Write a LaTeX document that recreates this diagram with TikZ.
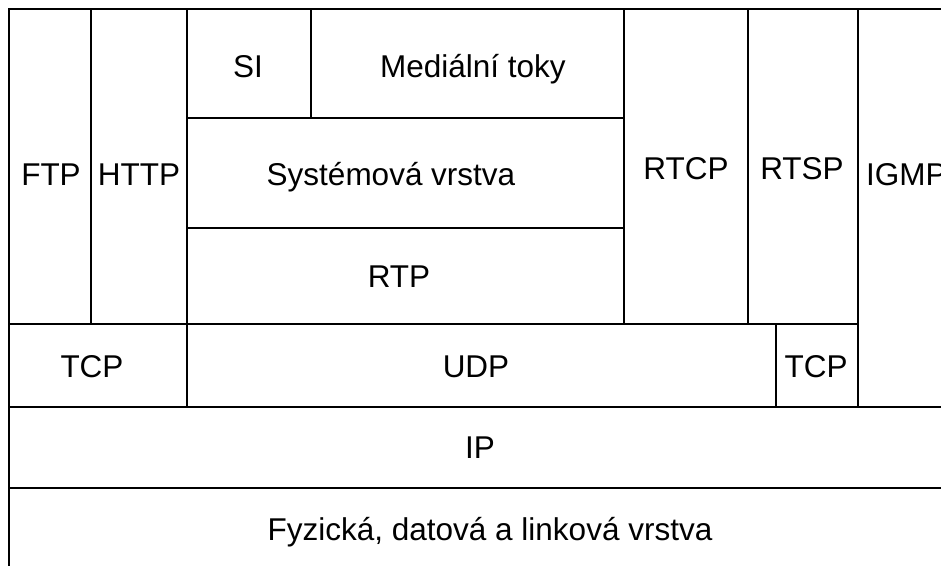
\documentclass[tikz,border=0pt]{standalone}
\usepackage{fontspec}
\setmainfont{Liberation Sans}
\begin{document}
\begin{tikzpicture}[x=1pt,y=-1pt,
    layer/.style={draw,line width=2.8pt},
    lbl/.style={anchor=base,inner sep=0pt,font=\fontsize{31.5}{37}\selectfont}]
    \useasboundingbox (0,0) rectangle (941,565);
    \draw[layer] (9,9) rectangle (91,324);
    \draw[layer] (91,9) rectangle (187,324);
    \draw[layer] (187,9) rectangle (311,118);
    \draw[layer] (311,9) rectangle (624,118);
    \draw[layer] (187,118) rectangle (624,228);
    \draw[layer] (187,228) rectangle (624,324);
    \draw[layer] (624,9) rectangle (748,324);
    \draw[layer] (748,9) rectangle (858,324);
    \draw[layer] (858,9) rectangle (990,407);
    \draw[layer] (9,324) rectangle (187,407);
    \draw[layer] (187,324) rectangle (776,407);
    \draw[layer] (776,324) rectangle (858,407);
    \draw[layer] (9,407) rectangle (990,488);
    \draw[layer] (9,488) rectangle (990,600);
    \node[lbl] (ftp) at (51,185) {FTP};
    \node[lbl] (http) at (139,185) {HTTP};
    \node[lbl] (si) at (248,77) {SI};
    \node[lbl] (media) at (473,77) {Mediální toky};
    \node[lbl] (sys) at (391,185) {Systémová vrstva};
    \node[lbl] (rtp) at (399,287) {RTP};
    \node[lbl] (rtcp) at (686,179) {RTCP};
    \node[lbl] (rtsp) at (802,179) {RTSP};
    \node[lbl,anchor=base west] (igmp) at (866,185) {IGMP};
    \node[lbl] (tcpl) at (92,377) {TCP};
    \node[lbl] (udp) at (476,377) {UDP};
    \node[lbl] (tcpr) at (816,377) {TCP};
    \node[lbl] (ip) at (480,458) {IP};
    \node[lbl] (fyz) at (490,540) {Fyzická, datová a linková vrstva};
\end{tikzpicture}
\end{document}
